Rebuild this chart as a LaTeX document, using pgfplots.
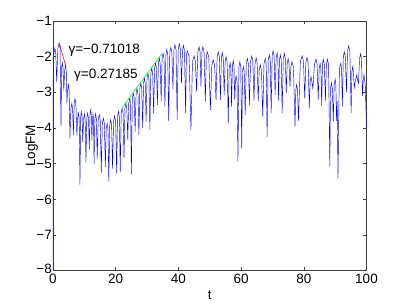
\documentclass[border=0pt]{standalone}
\usepackage{fontspec}
\setmainfont{Liberation Sans}
\usepackage{pgfplots}
\pgfplotsset{compat=1.18}
\begin{document}
\begin{tikzpicture}
\useasboundingbox (-53pt,-33.3pt) rectangle (352pt,270.7pt);
\begin{axis}[
  width=313.5pt, height=249.7pt, scale only axis,
  at={(0,0)}, anchor=south west,
  xmin=0, xmax=100, ymin=-8, ymax=-1,
  clip=false,
  axis line style={black!75, line width=0.6pt},
  every tick/.style={black!75, line width=0.6pt},
  tick align=inside, major tick length=3.3pt,
  xtick={0,20,40,60,80,100}, xticklabels={0,20,40,60,80,100},
  ytick={-8,-7,-6,-5,-4,-3,-2,-1},
  yticklabels={\raisebox{4pt}{−8},−7,−6,−5,−4,−3,−2,−1},
  tick label style={font=\fontsize{13.5}{15}\selectfont, black},
  yticklabel style={inner sep=1pt},
  xticklabel style={inner sep=1pt, yshift=-2pt},
  label style={font=\fontsize{13.5}{15}\selectfont},
  xlabel={t}, ylabel={LogFM},
  xlabel style={at={(axis description cs:0.5,-0.097)}, anchor=center},
  ylabel style={at={(axis description cs:-0.067,0.5)}, anchor=center, rotate=0},
]
\addplot[blue, line width=0.45pt] coordinates {
(0,-8) (0.05,-2.6) (0.25,-1.95) (0.6,-1.76)
(0.885,-1.91) (1.17,-2.70) (1.56,-1.77) (1.95,-1.62)
(2.25,-1.77) (2.55,-3.96) (2.75,-2.32) (2.95,-2.17)
(3.2,-2.32) (3.45,-2.95) (3.725,-2.38) (4.0,-2.23)
(4.225,-2.38) (4.45,-3.3) (4.675,-2.94) (4.9,-2.79)
(5.15,-2.94) (5.4,-4.3) (5.7,-3.46) (6.0,-3.31)
(6.25,-3.46) (6.5,-4.2) (6.75,-3.32) (7.0,-3.17)
(7.3,-3.32) (7.6,-4.2) (7.85,-3.73) (8.1,-3.58)
(8.35,-3.73) (8.6,-5.59) (8.825,-3.70) (9.05,-3.55)
(9.275,-3.70) (9.5,-4.4) (9.75,-3.75) (10.0,-3.6)
(10.25,-3.75) (10.5,-4.97) (10.775,-3.73) (11.05,-3.58)
(11.325,-3.73) (11.6,-4.6) (11.8,-3.64) (12.0,-3.49)
(12.2,-3.64) (12.4,-4.35) (12.575,-3.75) (12.75,-3.6)
(12.925,-3.75) (13.1,-5.0) (13.35,-3.75) (13.6,-3.6)
(13.85,-3.75) (14.1,-4.86) (14.425,-3.77) (14.75,-3.62)
(15.075,-3.77) (15.4,-5.25) (15.725,-3.87) (16.05,-3.72)
(16.375,-3.87) (16.7,-5.09) (16.975,-4.02) (17.25,-3.87)
(17.525,-4.02) (17.8,-5.5) (18.1,-3.92) (18.4,-3.77)
(18.7,-3.92) (19.0,-5.14) (19.325,-3.81) (19.65,-3.66)
(19.975,-3.81) (20.3,-5.27) (20.575,-3.68) (20.85,-3.53)
(21.15,-3.68) (21.45,-5.25) (21.75,-3.59) (22.05,-3.44)
(22.35,-3.59) (22.65,-4.85) (22.95,-3.45) (23.25,-3.30)
(23.55,-3.45) (23.85,-4.33) (24.15,-3.31) (24.45,-3.16)
(24.725,-3.31) (25.0,-5.3) (25.3,-3.17) (25.6,-3.02)
(25.9,-3.17) (26.2,-4.1) (26.5,-3.03) (26.8,-2.88)
(27.1,-3.03) (27.4,-4.2) (27.7,-2.89) (28.0,-2.74)
(28.3,-2.89) (28.6,-4.0) (28.875,-2.75) (29.15,-2.60)
(29.425,-2.75) (29.7,-3.83) (30.0,-2.61) (30.3,-2.46)
(30.6,-2.61) (30.9,-4.05) (31.2,-2.47) (31.5,-2.32)
(31.8,-2.47) (32.1,-3.59) (32.4,-2.33) (32.7,-2.18)
(33.0,-2.33) (33.3,-3.35) (33.6,-2.19) (33.9,-2.04)
(34.2,-2.19) (34.5,-3.25) (34.8,-2.05) (35.1,-1.90)
(35.4,-2.05) (35.7,-3.4) (36.0,-1.95) (36.3,-1.80)
(36.6,-1.95) (36.9,-3.79) (37.25,-1.89) (37.6,-1.74)
(37.925,-1.89) (38.25,-2.9) (38.575,-1.81) (38.9,-1.66)
(39.25,-1.81) (39.6,-3.77) (39.95,-1.79) (40.3,-1.64)
(40.65,-1.79) (41.0,-2.75) (41.3,-1.83) (41.6,-1.68)
(41.95,-1.83) (42.3,-3.59) (42.55,-1.98) (42.8,-1.83)
(43.4,-1.98) (44.0,-4.05) (44.5,-2.13) (45.0,-1.98)
(45.4,-2.13) (45.8,-2.98) (46.2,-1.87) (46.6,-1.72)
(46.9,-1.87) (47.2,-2.84) (47.5,-1.87) (47.8,-1.72)
(48.2,-1.87) (48.6,-3.26) (48.9,-2.01) (49.2,-1.86)
(49.7,-2.01) (50.2,-3.49) (50.65,-2.24) (51.1,-2.09)
(51.55,-2.24) (52.0,-3.21) (52.35,-2.01) (52.7,-1.86)
(53.05,-2.01) (53.4,-3.21) (53.7,-2.04) (54.0,-1.89)
(54.3,-2.04) (54.6,-3.07) (54.9,-2.15) (55.2,-2.0)
(55.55,-2.15) (55.9,-3.87) (56.2,-2.32) (56.5,-2.17)
(56.725,-2.32) (56.95,-3.40) (57.225,-2.26) (57.5,-2.11)
(57.725,-2.26) (57.95,-3.2) (58.175,-2.69) (58.4,-2.54)
(58.7,-2.69) (59.0,-4.94) (59.3,-2.29) (59.6,-2.14)
(59.9,-2.29) (60.2,-4.57) (60.45,-2.43) (60.7,-2.28)
(61.0,-2.43) (61.3,-3.63) (61.65,-2.20) (62.0,-2.05)
(62.325,-2.20) (62.65,-3.35) (63.025,-2.13) (63.4,-1.98)
(63.75,-2.13) (64.1,-3.23) (64.45,-2.18) (64.8,-2.03)
(65.125,-2.18) (65.45,-3.26) (65.775,-2.38) (66.1,-2.23)
(66.5,-2.38) (66.9,-3.68) (67.3,-2.20) (67.7,-2.05)
(68.0,-2.20) (68.3,-4.26) (68.65,-2.10) (69.0,-1.95)
(69.3,-2.10) (69.6,-3.59) (69.9,-1.98) (70.2,-1.83)
(70.525,-1.98) (70.85,-3.07) (71.175,-2.04) (71.5,-1.89)
(71.725,-2.04) (71.95,-3.23) (72.225,-2.10) (72.5,-1.95)
(72.8,-2.10) (73.1,-3.59) (73.45,-2.06) (73.8,-1.91)
(74.1,-2.06) (74.4,-3.02) (74.7,-2.20) (75.0,-2.05)
(75.3,-2.20) (75.6,-2.84) (75.9,-2.29) (76.2,-2.14)
(76.7,-2.29) (77.2,-3.96) (77.45,-2.94) (77.7,-2.79)
(78.0,-2.94) (78.3,-3.79) (78.9,-2.13) (79.5,-1.98)
(79.9,-2.13) (80.3,-3.17) (80.65,-2.17) (81.0,-2.02)
(81.375,-2.17) (81.75,-3.45) (82.025,-2.71) (82.3,-2.56)
(82.6,-2.71) (82.9,-2.89) (83.4,-2.22) (83.9,-2.07)
(84.25,-2.22) (84.6,-3.21) (84.9,-2.34) (85.2,-2.19)
(85.45,-2.34) (85.7,-3.38) (85.95,-2.22) (86.2,-2.07)
(86.55,-2.22) (86.9,-3.23) (87.2,-2.22) (87.5,-2.07)
(87.9,-2.22) (88.3,-5.08) (88.55,-2.88) (88.8,-2.73)
(89.1,-2.88) (89.4,-3.82) (89.7,-2.78) (90.0,-2.63)
(90.225,-2.78) (90.45,-3.8) (90.65,-3.25) (90.9,-5.41)
(91.35,-2.34) (91.8,-2.19) (92.05,-2.34) (92.3,-3.40)
(92.6,-2.01) (92.9,-1.86) (93.25,-2.01) (93.6,-3.0)
(93.95,-1.85) (94.3,-1.70) (94.7,-1.85) (95.1,-3.59)
(95.35,-2.43) (95.6,-2.28) (95.85,-2.43) (96.1,-2.87)
(96.5,-2.66) (96.9,-2.51) (97.175,-2.66) (97.45,-2.75)
(97.775,-2.07) (98.1,-1.92) (98.4,-2.07) (98.7,-3.1)
(98.95,-2.65) (99.2,-2.5) (99.6,-2.8) (100,-4.0)
};
\addplot[red, line width=0.6pt] coordinates {(2.0,-1.62) (4.1,-2.27)};
\addplot[green, line width=0.6pt] coordinates {(22.1,-3.42) (34.7,-1.92)};
\node[anchor=west, inner sep=0pt, font=\fontsize{13.5}{15}\selectfont] at (axis cs:4.9,-1.83) {γ=−0.71018};
\node[anchor=west, inner sep=0pt, font=\fontsize{13.5}{15}\selectfont] at (axis cs:6.7,-2.51) {γ=0.27185};
\end{axis}
\end{tikzpicture}
\end{document}
